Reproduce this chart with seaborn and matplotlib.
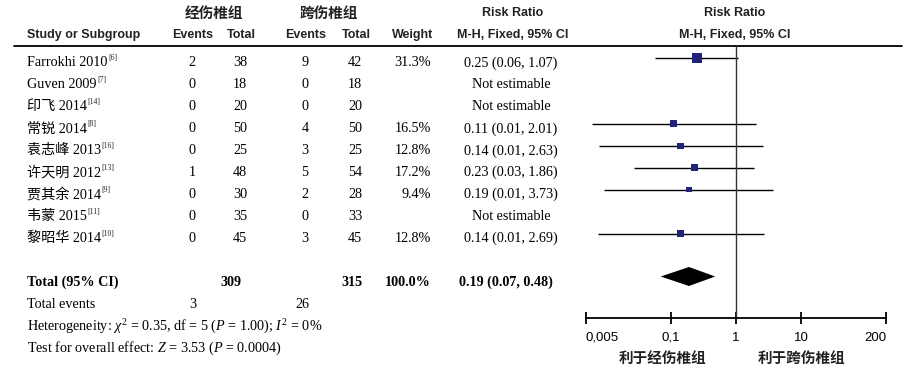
import numpy as np
import pandas as pd
import seaborn as sns
import matplotlib.pyplot as plt
from matplotlib.ticker import NullLocator

# Forest plot data ----------------------------------------------------------------------------------------------------

studies = ["Farrokhi 2010", "Guven 2009", "印飞 2014", "常锐 2014", "袁志峰 2013",
           "许天明 2012", "贾其余 2014", "韦蒙 2015", "黎昭华 2014"]
refs = ["[6]", "[7]", "[14]", "[8]", "[16]", "[13]", "[9]", "[11]", "[10]"]
events_a = [2, 0, 0, 0, 0, 1, 0, 0, 0]
total_a = [38, 18, 20, 50, 25, 48, 30, 35, 45]
events_b = [9, 0, 0, 4, 3, 5, 2, 0, 3]
total_b = [42, 18, 20, 50, 25, 54, 28, 33, 45]
weight = [31.3, np.nan, np.nan, 16.5, 12.8, 17.2, 9.4, np.nan, 12.8]
rr = [0.25, np.nan, np.nan, 0.11, 0.14, 0.23, 0.19, np.nan, 0.14]
ci_lo = [0.057, np.nan, np.nan, 0.0061, 0.0078, 0.027, 0.0094, np.nan, 0.0076]
ci_hi = [1.07, np.nan, np.nan, 2.01, 2.63, 1.86, 3.73, np.nan, 2.69]

total_rr, total_lo, total_hi = 0.19, 0.07, 0.48
total_n = [309, 315]
total_events = [3, 26]
ticks = [0.005, 0.1, 1, 10, 200]
tick_labels = ["0,005", "0,1", "1", "10", "200"]

sns.set_theme(style="white")
plt.rcParams['font.family'] = ['Liberation Serif', 'Noto Sans CJK SC']
plt.rcParams['mathtext.fontset'] = 'custom'
plt.rcParams['mathtext.rm'] = 'Liberation Serif'
plt.rcParams['mathtext.it'] = 'Liberation Serif:italic'

serif = ['Liberation Serif', 'Noto Sans CJK SC']
sans = ['Liberation Sans', 'Noto Sans CJK SC']
cjk = ['Noto Sans CJK SC']

W, H = 910, 368
fig = plt.figure(figsize=(9.1, 3.68), dpi=100)
tax = fig.add_axes([0, 0, 1, 1])
tax.set_xlim(0, W)
tax.set_ylim(H, 0)
tax.axis('off')

# header ---------------------------------------------------------------------------------------------------------------
grp = dict(family=cjk, fontsize=10.5, fontweight='bold', color='#222222', ha='center', va='center')
hdr = dict(family=sans, fontsize=9, fontweight='bold', color='#222222', ha='center', va='center')
tax.text(214, 13, "经伤椎组", **grp)
tax.text(329, 13, "跨伤椎组", **grp)
tax.text(513, 13, "Risk Ratio", **hdr)
tax.text(735, 13, "Risk Ratio", **hdr)
tax.text(27, 35, "Study or Subgroup", **{**hdr, 'ha': 'left'})
for x, s in [(193, "Events"), (241, "Total"), (306, "Events"), (356, "Total"), (413, "Weight"),
             (513, "M-H, Fixed, 95% CI"), (735, "M-H, Fixed, 95% CI")]:
    tax.text(x, 35, s, **hdr)
tax.plot([14, 902], [46, 46], color='black', lw=1.3)

# table body -----------------------------------------------------------------------------------------------------------
row_y = 63 + 21.95 * np.arange(14)
body = dict(family=serif, fontsize=10.2, color='black', va='center')
for i, name in enumerate(studies):
    y = row_y[i]
    t = tax.text(27, y, name, ha='left', **body)
    tax.annotate(refs[i], xy=(1, 1), xycoords=t, xytext=(0.5, 1.5), textcoords='offset points',
                 fontsize=5.5, family=serif, ha='left', va='top')
    tax.text(192, y, str(events_a[i]), ha='center', **body)
    tax.text(240, y, str(total_a[i]), ha='center', **body)
    tax.text(305, y, str(events_b[i]), ha='center', **body)
    tax.text(355, y, str(total_b[i]), ha='center', **body)
    if np.isnan(rr[i]):
        tax.text(511, y, "Not estimable", ha='center', **body)
    else:
        tax.text(431, y, f"{weight[i]:.1f}%", ha='right', **body)
        tax.text(511, y, f"{rr[i]:.2f} ({ci_lo[i]:.2f}, {ci_hi[i]:.2f})", ha='center', **body)

bold = {**body, 'fontweight': 'bold'}
tax.text(27, row_y[10], "Total (95% CI)", ha='left', **bold)
tax.text(231, row_y[10], str(total_n[0]), ha='center', **bold)
tax.text(352, row_y[10], str(total_n[1]), ha='center', **bold)
tax.text(431, row_y[10], f"{np.nansum(weight):.1f}%", ha='right', **bold)
tax.text(506, row_y[10], f"{total_rr:.2f} ({total_lo:.2f}, {total_hi:.2f})", ha='center', **bold)
tax.text(27, row_y[11], "Total events", ha='left', **body)
tax.text(193, row_y[11], str(total_events[0]), ha='center', **body)
tax.text(302, row_y[11], str(total_events[1]), ha='center', **body)
tax.text(27, row_y[12], r"Heterogeneity: $\chi^2$ = 0.35, df = 5 ($P$ = 1.00); $I^2$ = 0%", ha='left', **body)
tax.text(27, row_y[13], r"Test for overall effect: $Z$ = 3.53 ($P$ = 0.0004)", ha='left', **body)

# forest panel ---------------------------------------------------------------------------------------------------------
y_top, y_axis = 46, 318
fax = fig.add_axes([586 / W, 1 - y_axis / H, 300 / W, (y_axis - y_top) / H])
fax.patch.set_alpha(0)

df = pd.DataFrame({'rr': rr, 'lo': ci_lo, 'hi': ci_hi, 'weight': weight, 'y': row_y[:9] - 5})
est = df.dropna()
fax.hlines(est['y'], est['lo'], est['hi'], color='black', lw=1)
sns.scatterplot(data=est, x='rr', y='y', size='weight', sizes=(16, 48), marker='s',
                color='#1f237a', edgecolor='none', legend=False, ax=fax, zorder=3)

yd = row_y[10] - 6
fax.fill([total_lo, total_rr, total_hi, total_rr], [yd, yd - 9.5, yd, yd + 9.5], color='black', lw=0)
fax.axvline(1, color='#333333', lw=1)

fax.set_xscale('log')
fax.set_xlim(ticks[0], ticks[-1])
fax.set_ylim(y_axis, y_top)
fax.set_xticks(ticks)
fax.set_xticklabels(tick_labels)
fax.xaxis.set_minor_locator(NullLocator())
fax.set_yticks([])
fax.set_xlabel("")
fax.set_ylabel("")
for side in ['top', 'left', 'right']:
    fax.spines[side].set_visible(False)
fax.spines['bottom'].set_color('black')
fax.spines['bottom'].set_linewidth(1.3)
fax.tick_params(axis='x', bottom=True, direction='inout', length=8, width=1.3, pad=6,
                labelsize=9.5, colors='black')
labels = fax.get_xticklabels()
for lbl in labels:
    lbl.set_family(sans)
labels[0].set_ha('left')
labels[-1].set_ha('right')

fav = dict(family=cjk, fontsize=10.5, fontweight='bold', color='#222222', ha='center', va='center')
tax.text(663, 358, "利于经伤椎组", **fav)
tax.text(802, 358, "利于跨伤椎组", **fav)

fig.savefig("out.png", dpi=100)
